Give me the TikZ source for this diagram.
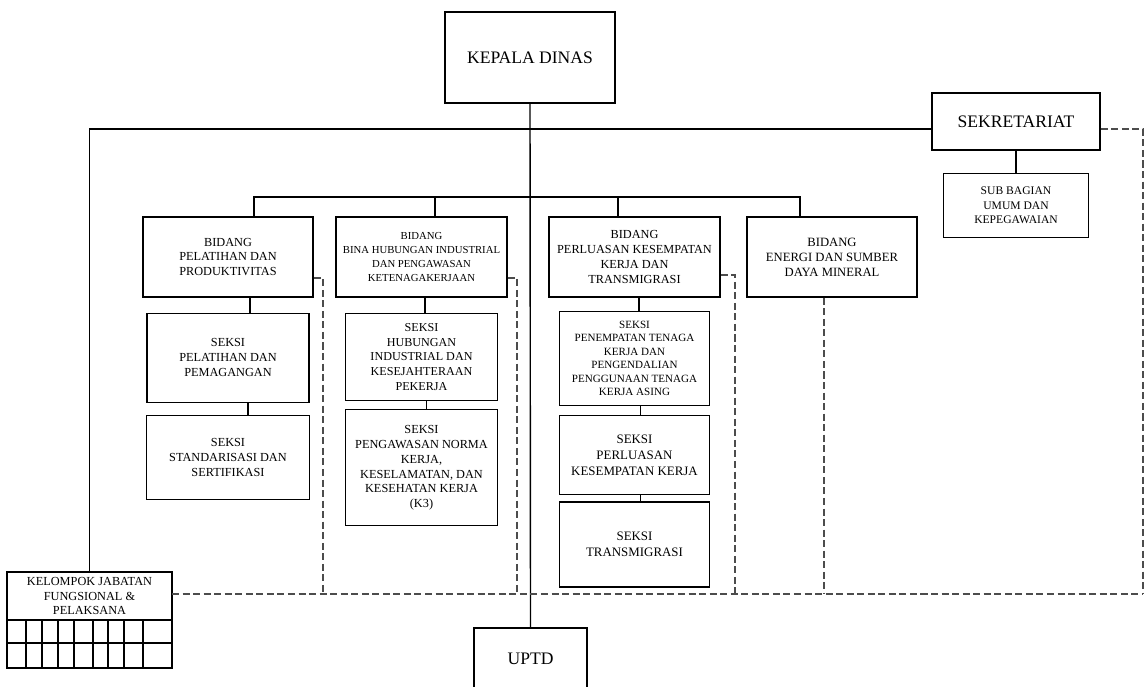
\documentclass[tikz,border=0pt]{standalone}
\usepackage{fontspec}
\setmainfont{Liberation Serif}
\usetikzlibrary{positioning}

\begin{document}
\begin{tikzpicture}[x=0.02cm, y=-0.02cm, thick,
		box/.style={draw, rectangle, align=center, inner sep=1pt, font=\fontsize{7}{8.5}\selectfont},
		big box/.style={draw, rectangle, align=center, font=\fontsize{10}{12}\selectfont},
		staff line/.style={line width=0.6pt, black!70, dash pattern=on 4pt off 2pt}]
		\useasboundingbox (0,0) rectangle (1145,686);

		%% Nodes
		\begin{scope}
			\node (kepala) at (530, 57.5) [big box, minimum width=3.4cm, minimum height=1.82cm] {KEPALA DINAS};
			\node (sekretariat) at (1016, 121.5) [big box, minimum width=3.36cm, minimum height=1.14cm] {SEKRETARIAT};
			\node (subbag) [box, below = 0.44cm of sekretariat, minimum width=2.9cm, minimum height=1.28cm, font=\fontsize{6.6}{8.3}\selectfont] {SUB BAGIAN\\UMUM DAN\\KEPEGAWAIAN};
			\node (uptd) at (530.5, 659) [big box, minimum width=2.26cm, minimum height=1.24cm] {UPTD};
		\end{scope}

		% Bidang
		\begin{scope}
			\node (pelatihan) at (228, 257) [box, minimum width=3.4cm, minimum height=1.6cm] {BIDANG\\PELATIHAN DAN\\PRODUKTIVITAS};
			\node (bina) at (421.5, 257) [box, minimum width=3.42cm, minimum height=1.6cm, font=\fontsize{6.1}{8}\selectfont] {BIDANG\\BINA HUBUNGAN INDUSTRIAL\\DAN PENGAWASAN\\KETENAGAKERJAAN};
			\node (perluasan) at (634.5, 257) [box, minimum width=3.42cm, minimum height=1.6cm] {BIDANG\\PERLUASAN KESEMPATAN\\KERJA DAN\\TRANSMIGRASI};
			\node (energi) at (832, 257) [box, minimum width=3.4cm, minimum height=1.6cm, font=\fontsize{7.2}{8.6}\selectfont] {BIDANG\\ENERGI DAN SUMBER\\DAYA MINERAL};
		\end{scope}

		% Seksi
		\begin{scope}
			\node (pel1) [box, below = 0.3cm of pelatihan, minimum width=3.24cm, minimum height=1.78cm] {SEKSI\\PELATIHAN DAN\\PEMAGANGAN};
			\node (pel2) [box, below = 0.24cm of pel1, minimum width=3.26cm, minimum height=1.68cm] {SEKSI\\STANDARISASI DAN\\SERTIFIKASI};

			\node (bina1) [box, below = 0.3cm of bina, minimum width=3.04cm, minimum height=1.74cm, font=\fontsize{6.9}{8.3}\selectfont] {SEKSI\\HUBUNGAN\\INDUSTRIAL DAN\\KESEJAHTERAAN\\PEKERJA};
			\node (bina2) [box, below = 0.16cm of bina1, minimum width=3.04cm, minimum height=2.32cm] {SEKSI\\PENGAWASAN NORMA\\KERJA,\\KESELAMATAN, DAN\\KESEHATAN KERJA\\(K3)};

			\node (per1) [box, below = 0.26cm of perluasan, minimum width=3cm, minimum height=1.88cm, font=\fontsize{6.3}{7.6}\selectfont] {SEKSI\\PENEMPATAN TENAGA\\KERJA DAN\\PENGENDALIAN\\PENGGUNAAN TENAGA\\KERJA ASING};
			\node (per2) [box, below = 0.18cm of per1, minimum width=3cm, minimum height=1.58cm, font=\fontsize{7.35}{9}\selectfont] {SEKSI\\PERLUASAN\\KESEMPATAN KERJA};
			\node (per3) [box, below = 0.12cm of per2, minimum width=3cm, minimum height=1.7cm, font=\fontsize{7.35}{9}\selectfont] {SEKSI\\TRANSMIGRASI};
		\end{scope}

		% Kelompok jabatan
		\begin{scope}
			\node (kelompok) at (89.5, 620) [draw, rectangle, minimum width=3.3cm, minimum height=1.92cm] {};
			\node (kelompok_title) at (89.5, 596) [align=center, font=\fontsize{7}{8}\selectfont] {KELOMPOK JABATAN\\FUNGSIONAL \&\\PELAKSANA};
			\coordinate (grid1) at (89.5, 620);
			\coordinate (grid2) at (89.5, 643);
			\draw (kelompok.west |- grid1) -- (kelompok.east |- grid1);
			\draw (kelompok.west |- grid2) -- (kelompok.east |- grid2);
			\foreach \x in {26, 42, 58, 74, 93, 108, 124, 143}
				\draw (\x, 620) -- (\x, 668);
		\end{scope}

		%% Coordinates
		\coordinate (top) at (530, 129);
		\coordinate (bus) at (530, 197);
		\coordinate (dash_w) at (172, 594);
		\coordinate (dash_e) at (1143, 594);
		\coordinate (pel_drop) at (323, 594);
		\coordinate (bina_drop) at (517, 594);
		\coordinate (per_drop) at (735, 594);
		\coordinate (energi_drop) at (824, 594);

		%% Edges
		\draw (kepala.south) -- (uptd.north);
		\draw (kelompok.north) |- (top) -- (top -| sekretariat.west);
		\draw (sekretariat) -- (subbag);

		\foreach \n/\dx in {pelatihan/0.52cm, bina/0.27cm, perluasan/-0.33cm, energi/-0.64cm}
			\draw ([xshift=\dx]\n.north) |- (bus);

		\foreach \a/\b/\dx in {pelatihan/pel1/0.44cm, pel1/pel2/0.4cm, bina/bina1/0.07cm, bina1/bina2/0.1cm,
				perluasan/per1/0.09cm, per1/per2/0.12cm, per2/per3/0.12cm}
			\draw ([xshift=\dx]\a.south) -- ([xshift=\dx]\b.north);

		% Dashed lines
		\draw[staff line] (dash_w) -- (dash_e);
		\draw[staff line] (top -| sekretariat.east) -| (dash_e);
		\draw[staff line] ([yshift=-0.42cm]pelatihan.east) -| (pel_drop);
		\draw[staff line] ([yshift=-0.42cm]bina.east) -| (bina_drop);
		\draw[staff line] ([yshift=-0.36cm]perluasan.east) -| (per_drop);
		\draw[staff line] (energi_drop |- energi.south) -- (energi_drop);
	\end{tikzpicture}
\end{document}
